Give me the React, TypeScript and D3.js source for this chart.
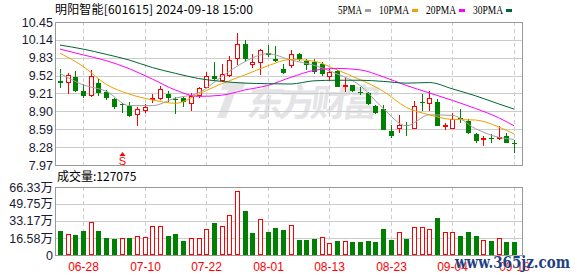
import React from "react";
import * as d3 from "d3";

const dates = ["06-25","06-26","06-27","06-28","07-01","07-02","07-03","07-04","07-05","07-08","07-09","07-10","07-11","07-12","07-15","07-16","07-17","07-18","07-19","07-22","07-23","07-24","07-25","07-26","07-29","07-30","07-31","08-01","08-02","08-05","08-06","08-07","08-08","08-09","08-12","08-13","08-14","08-15","08-16","08-19","08-20","08-21","08-22","08-23","08-26","08-27","08-28","08-29","08-30","09-02","09-03","09-04","09-05","09-06","09-09","09-10","09-11","09-12","09-13","09-18"];
const openP = [9.43,9.39,9.49,9.26,9.16,9.40,9.24,9.11,9.03,9.00,8.83,8.90,9.10,9.12,9.20,9.12,9.13,9.03,9.17,9.31,9.51,9.43,9.51,9.81,10.07,9.70,9.74,9.92,9.81,9.64,9.68,9.90,9.78,9.75,9.73,9.49,9.60,9.35,9.35,9.23,9.21,9.00,8.94,8.56,8.60,8.66,8.60,9.06,9.02,9.06,8.66,8.60,8.78,8.73,8.50,8.42,8.43,8.44,8.47,8.36];
const highP = [9.63,9.56,9.60,9.37,9.62,9.46,9.27,9.14,9.05,9.06,8.97,9.02,9.20,9.34,9.26,9.15,9.15,9.22,9.33,9.58,9.76,9.72,9.86,10.26,10.13,9.89,9.99,10.05,10.03,9.73,9.96,9.92,9.80,9.80,9.76,9.63,9.62,9.49,9.36,9.33,9.23,9.01,9.01,8.66,8.84,8.72,9.08,9.20,9.25,9.12,8.70,8.88,8.94,8.77,8.52,8.47,8.50,8.65,8.53,8.40];
const lowP = [9.31,9.20,9.24,9.14,9.15,9.17,9.10,8.94,8.88,8.80,8.65,8.88,9.04,9.10,9.06,8.85,8.98,8.90,9.14,9.30,9.44,9.42,9.50,9.70,9.76,9.65,9.53,9.85,9.76,9.55,9.66,9.78,9.61,9.55,9.51,9.42,9.32,9.24,9.23,9.18,9.01,8.86,8.57,8.43,8.53,8.47,8.59,8.90,8.91,8.64,8.57,8.59,8.69,8.51,8.35,8.30,8.36,8.41,8.35,8.18];
const closeP = [9.39,9.53,9.26,9.16,9.51,9.22,9.13,8.97,9.02,8.82,8.94,8.97,9.14,9.28,9.13,9.11,9.06,9.17,9.30,9.52,9.46,9.55,9.79,10.07,9.80,9.76,9.96,9.88,9.77,9.57,9.90,9.80,9.70,9.58,9.54,9.58,9.33,9.36,9.25,9.22,9.02,8.88,8.58,8.48,8.67,8.64,9.00,9.05,9.13,8.65,8.67,8.77,8.77,8.52,8.39,8.43,8.42,8.45,8.36,8.35];
// volume in 万手
const volume = [23.6,20.1,19.4,23.6,32.4,23.6,16.8,15.5,16.5,16.5,18.1,17.2,28.2,28.2,18.4,20.4,13.9,16.2,16.2,25.2,31.1,28.2,39.5,62.1,42.7,21.4,35.6,22.3,26.2,24.3,28.8,14.6,14.6,15.5,17.2,11.3,13.6,13.6,12.6,12.6,13.6,12.6,25.2,14.6,22.0,15.5,26.9,26.9,24.9,35.9,22.0,22.0,18.4,22.3,18.4,14.6,13.6,16.2,12.6,12.7];
const volUp = [0,1,0,0,1,0,0,0,1,0,1,1,1,1,0,0,0,1,1,1,0,1,1,1,0,0,1,0,0,0,1,0,0,0,1,1,0,1,0,0,0,0,0,0,1,0,1,1,1,0,1,1,0,0,0,1,0,1,0,0];

// moving averages at these candle indices
const maIdx = [0,3,6,9,12,15,18,21,24,27,30,33,36,39,42,45,48,51,54,57,59];
const ma5 = [9.56,9.36,9.25,9.00,9.00,9.13,9.22,9.50,9.76,9.90,9.79,9.70,9.55,9.35,8.95,8.65,8.84,8.83,8.60,8.45,8.415];
const ma10 = [9.91,9.68,9.37,9.20,9.10,9.04,9.20,9.38,9.53,9.69,9.80,9.77,9.62,9.45,9.25,8.97,8.84,8.76,8.75,8.63,8.51];
const ma20 = [9.98,9.88,9.78,9.64,9.46,9.27,9.16,9.18,9.27,9.35,9.49,9.61,9.645,9.62,9.50,9.35,9.22,9.09,8.95,8.79,8.65];
const ma30 = [10.05,9.98,9.89,9.79,9.66,9.56,9.47,9.42,9.39,9.38,9.375,9.43,9.44,9.44,9.42,9.39,9.40,9.29,9.17,9.03,8.94];

const priceTicks = [10.45,10.14,9.83,9.52,9.21,8.90,8.59,8.28,7.97];
const volTicks = [66.33,49.75,33.17,16.58,0];
const volTickLabels = ["66.33万","49.75万","33.17万","16.58万","0"];
const dateTickIdx = [3,11,19,27,35,43,51,59];
const legendNames = ["5PMA","10PMA","20PMA","30PMA"];
const legendColors = ["#a0a0a0","#f0a000","#ff00ff","#006633"];

const RED = "#ff0000";
const GREEN = "#008000";

export default function App() {
  const L = 55, R = 522, PT = 22, PB = 165, VT = 187, VB = 255;
  const xs = d3.scaleLinear().domain([0, 59]).range([60, 514]);
  const yP = d3.scaleLinear().domain([7.97, 10.45]).range([PB, PT]);
  const yV = d3.scaleLinear().domain([0, 66.33]).range([VB, VT]);
  const line = d3.line<number>().x((_, k) => xs(maIdx[k])).y((v) => yP(v)).curve(d3.curveMonotoneX);
  const maSeries = [ma5, ma10, ma20, ma30];

  const cx = (i: number) => Math.round(xs(i));

  // legend layout
  let lx = 338;
  const legendItems = legendNames.map((n, k) => {
    const tx = lx;
    const w = n.length * 6;
    const sx = tx + w + 3;
    lx = sx + 6 + 8;
    return { n, tx, w, sx, c: legendColors[k] };
  });

  return (
    <svg width={578} height={276} style={{ position: "absolute", left: 0, top: 0, background: "#fff" }}>
      <rect x={0} y={0} width={578} height={276} fill="#fff" />
      {/* header */}
      <text x={55} y={14} fontSize={12} fontFamily="'Noto Sans CJK SC', sans-serif" fill="#000" textLength={198}>明阳智能[601615] 2024-09-18 15:00</text>
      {legendItems.map((it) => (
        <g key={it.n}>
          <text x={it.tx} y={14} fontSize={12.5} fontFamily="'Liberation Serif', serif" fill="#000" textLength={it.w} lengthAdjust="spacingAndGlyphs">{it.n}</text>
          <rect x={it.sx} y={9} width={6} height={3} fill={it.c} />
        </g>
      ))}

      {/* watermark */}
      <g fill="#e3e3e6" opacity={0.95}>
        <path d="M224,82 L246,82 L243,90 L236,90 L226,118 L217,118 L228,90 L221,90 Z" />
        <text x={248} y={116} fontSize={37} fontWeight="bold" fontFamily="'Noto Sans CJK SC', sans-serif" textLength={132} transform="skewX(-8) translate(14,0)">东方财富</text>
      </g>

      {/* price grid */}
      {priceTicks.map((t) => (
        <line key={"pg" + t} x1={L} x2={R} y1={Math.round(yP(t)) + 0.5} y2={Math.round(yP(t)) + 0.5} stroke="#cccccc" />
      ))}
      {dateTickIdx.map((i) => (
        <g key={"vg" + i}>
          <line x1={cx(i) + 0.5} x2={cx(i) + 0.5} y1={PT} y2={PB} stroke="#cccccc" strokeDasharray="4,3" />
          <line x1={cx(i) + 0.5} x2={cx(i) + 0.5} y1={VT} y2={VB} stroke="#cccccc" strokeDasharray="4,3" />
        </g>
      ))}
      {volTicks.map((t) => (
        <line key={"vgl" + t} x1={L} x2={R} y1={Math.round(yV(t)) + 0.5} y2={Math.round(yV(t)) + 0.5} stroke="#cccccc" />
      ))}

      {/* frames */}
      <rect x={L + 0.5} y={PT + 0.5} width={R - L} height={PB - PT} fill="none" stroke="#999999" />
      <rect x={L + 0.5} y={VT + 0.5} width={R - L} height={VB - VT} fill="none" stroke="#999999" />

      {/* price tick labels */}
      {priceTicks.map((t) => (
        <text key={"pl" + t} x={53} y={yP(t) + 4.5} textAnchor="end" fontSize={12.5} fontFamily="'Liberation Sans', Arial, sans-serif" fill="#1a1a33">{t.toFixed(2)}</text>
      ))}
      {volTicks.map((t, k) => (
        <text key={"vl" + t} x={53} y={yV(t) + 4.5} textAnchor="end" fontSize={12.5} fontFamily="'Liberation Sans', 'Noto Sans CJK SC', sans-serif" fill="#1a1a33">{volTickLabels[k]}</text>
      ))}
      <text x={57} y={181} fontSize={12} fontFamily="'Noto Sans CJK SC', sans-serif" fill="#000">成交量:127075</text>

      {/* candles */}
      {dates.map((d, i) => {
        const o = openP[i], c = closeP[i], h = highP[i], l = lowP[i];
        const up = c > o;
        const x = cx(i);
        const col = up ? RED : GREEN;
        const yTop = Math.round(yP(Math.max(o, c)));
        const yBot = Math.round(yP(Math.min(o, c)));
        const bh = Math.max(1, yBot - yTop);
        return (
          <g key={"c" + d}>
            <line x1={x + 0.5} x2={x + 0.5} y1={Math.round(yP(h))} y2={Math.round(yP(l))} stroke={col} />
            {up ? (
              <rect x={x - 2 + 0.5} y={yTop + 0.5} width={4} height={Math.max(1, bh - 1)} fill="#fff" stroke={col} />
            ) : (
              <rect x={x - 2} y={yTop} width={5} height={bh} fill={col} />
            )}
          </g>
        );
      })}

      {/* moving averages */}
      {maSeries.map((s, k) => (
        <path key={"ma" + k} d={line(s) || ""} fill="none" stroke={legendColors[k]} strokeWidth={1} />
      ))}

      {/* S marker */}
      <g fill={RED}>
        <path d={`M${cx(8) + 0.5},152 L${cx(8) + 3.5},156 L${cx(8) - 2.5},156 Z`} />
        <text x={cx(8) + 0.5} y={165} textAnchor="middle" fontSize={11} fontFamily="'Liberation Sans', sans-serif">S</text>
      </g>

      {/* volume bars */}
      {volume.map((v, i) => {
        const x = cx(i);
        const y = Math.round(yV(v));
        const up = volUp[i] === 1;
        return up ? (
          <rect key={"v" + i} x={x - 2 + 0.5} y={y + 0.5} width={4} height={VB - y - 1} fill="#fff" stroke={RED} />
        ) : (
          <rect key={"v" + i} x={x - 2} y={y} width={5} height={VB - y} fill={GREEN} />
        );
      })}

      {/* date labels */}
      {dateTickIdx.map((i) => (
        <text key={"dl" + i} x={cx(i) + 0.5} y={271} textAnchor="middle" fontSize={12} fontFamily="'Liberation Sans', Arial, sans-serif" fill={RED}>{dates[i]}</text>
      ))}

      {/* site watermark */}
      <text x={455} y={268} fontSize={17} fontWeight="bold" fontFamily="'DejaVu Serif', 'Liberation Serif', serif" fill="#1e3f80" stroke="#ffffff" strokeWidth={0.6} paintOrder="stroke" textLength={115} lengthAdjust="spacingAndGlyphs">www.365jz.com</text>
    </svg>
  );
}
